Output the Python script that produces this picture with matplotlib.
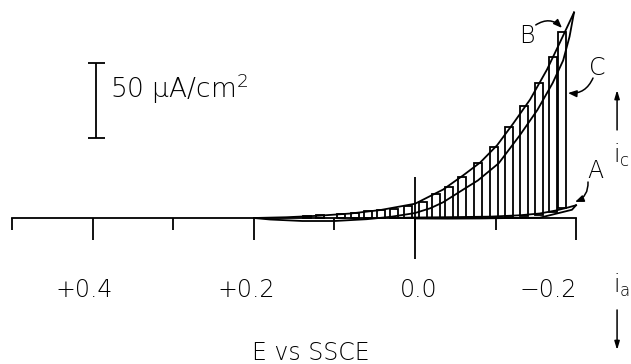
import matplotlib
matplotlib.use("Agg")
import matplotlib.pyplot as plt
from matplotlib.transforms import offset_copy

plt.rcParams["font.family"] = ["DejaVu Sans"]
plt.rcParams["mathtext.fontset"] = "custom"
plt.rcParams["mathtext.rm"] = "DejaVu Sans:light"
plt.rcParams["mathtext.it"] = "DejaVu Sans:light"

# ---- data (E in V vs SSCE, i in uA/cm^2, cathodic positive) ----
E_outer = [0.20, 0.16, 0.12, 0.08, 0.043, 0.0, -0.035, -0.060, -0.081, -0.102,
           -0.122, -0.143, -0.164, -0.180, -0.1975]
i_outer = [0.0, 0.5, 1.5, 3.0, 5.3, 9.5, 19.0, 28.5, 37.0, 48.5,
           63.0, 79.0, 99.0, 117.0, 137.0]

E_inner = [-0.1975, -0.192, -0.184, -0.171, -0.152, -0.130, -0.104, -0.078,
           -0.060, -0.035, -0.019, 0.0, 0.03, 0.06, 0.10, 0.14, 0.18, 0.20]
i_inner = [137.0, 121.0, 105.0, 90.0, 72.0, 55.0, 36.5, 25.0,
           19.0, 10.5, 6.5, 3.3, 0.8, -0.8, -2.0, -2.0, -1.0, 0.0]

E_A_fwd = [0.03, 0.0, -0.05, -0.093, -0.13, -0.155, -0.175, -0.19, -0.20]
i_A_fwd = [0.0, 0.3, 0.6, 0.9, 1.8, 3.0, 5.0, 7.0, 8.5]
E_A_rev = [-0.20, -0.195, -0.18, -0.155, -0.12, -0.08, -0.04, 0.0]
i_A_rev = [8.5, 5.5, 3.5, 0.2, 0.0, -0.3, -0.4, -0.3]

bar_E = [0.1344, 0.1183, 0.0922, 0.0748, 0.0586, 0.0425, 0.0263, 0.0089,
         -0.0097, -0.0258, -0.0420, -0.0581, -0.0780, -0.0979, -0.1165,
         -0.1352, -0.1538, -0.1712, -0.1824]
bar_top = [1.3, 2.3, 2.8, 3.3, 4.4, 5.1, 6.3, 7.7,
           10.7, 16.0, 20.5, 27.0, 36.5, 47.3, 60.5,
           74.7, 90.0, 107.0, 124.0]
bar_base = [0, 0, 0, 0, 0, 0, 0, 0,
            0, 0, 0, 0, 0, 0, 0.7,
            1.3, 2.2, 4.0, 7.0]

major_ticks = [0.4, 0.2, 0.0, -0.2]
major_labels = ["+0.4", "+0.2", "0.0", "\u22120.2"]
minor_ticks = [0.5, 0.3, 0.1, -0.1]
scale_value = 50  # uA/cm^2

# ---- figure ----
fig = plt.figure(figsize=(6.31, 3.64), dpi=100)
ax = fig.add_axes([0, 0, 1, 1])
ax.set_xlim(0.5155, -0.2683)
ax.set_ylim(-97.33, 145.33)
ax.patch.set_alpha(0)

for s in ["top", "right", "left"]:
    ax.spines[s].set_visible(False)
ax.spines["bottom"].set_position(("data", 0))
ax.spines["bottom"].set_bounds(min(major_ticks), max(minor_ticks))
ax.spines["bottom"].set_linewidth(1.3)
ax.set_yticks([])
ax.set_xticks(major_ticks)
ax.set_xticklabels([""] * len(major_ticks))
ax.set_xticks(minor_ticks, minor=True)
ax.tick_params(axis="x", which="major", direction="out", length=16, width=1.3)
ax.tick_params(axis="x", which="minor", direction="out", length=8.5, width=1.3)

lw = 1.3
heights = [t - b for t, b in zip(bar_top, bar_base)]
ax.bar(bar_E, heights, bottom=bar_base, width=0.0095, facecolor="none",
       edgecolor="black", linewidth=lw)
ax.plot(E_outer, i_outer, color="black", lw=lw)
ax.plot(E_inner, i_inner, color="black", lw=lw)
ax.plot(E_A_fwd, i_A_fwd, color="black", lw=lw)
ax.plot(E_A_rev, i_A_rev, color="black", lw=lw)

ax.vlines(0.0, -27, 27, color="black", lw=lw)

tw = "light"
fs = 17
label_dx = [20, 21, 22, 1]
for t, lab, dx in zip(major_ticks, major_labels, label_dx):
    tr = offset_copy(ax.transData, fig=fig, x=dx, y=0, units="dots")
    ax.text(t, -52.7, lab, transform=tr, ha="right", va="baseline",
            fontsize=fs, fontweight=tw, color="black")

ax.text(0.130, -94.5, "E vs SSCE", ha="center", va="baseline",
        fontsize=fs, fontweight=tw, color="black")

sx = 0.3963
s0 = 53.3
ax.vlines(sx, s0, s0 + scale_value, color="black", lw=lw)
ax.hlines([s0, s0 + scale_value], sx + 0.010, sx - 0.011, color="black", lw=lw)
ax.text(0.3789, 80, "50 \u03bcA/cm$^{\\mathrm{2}}$", ha="left",
        va="baseline", fontsize=19, fontweight=tw, color="black")

ax.text(-0.139, 121, "B", ha="center", va="center", fontsize=17, fontweight=tw)
ax.text(-0.226, 100, "C", ha="center", va="center", fontsize=17, fontweight=tw)
ax.text(-0.2236, 31.3, "A", ha="center", va="center", fontsize=17, fontweight=tw)

aprops = dict(arrowstyle="-|>,head_length=0.5,head_width=0.2",
              color="black", lw=1.1, shrinkA=0, shrinkB=0)
ax.annotate("", xy=(-0.1826, 126.7), xytext=(-0.150, 128.7),
            arrowprops=dict(aprops, connectionstyle="arc3,rad=-0.4"))
ax.annotate("", xy=(-0.190, 83.3), xytext=(-0.2211, 93.3),
            arrowprops=dict(aprops, connectionstyle="arc3,rad=-0.35"))
ax.annotate("", xy=(-0.1988, 10.7), xytext=(-0.2149, 24),
            arrowprops=dict(aprops, connectionstyle="arc3,rad=-0.35"))

ax.annotate("", xy=(-0.251, 85.3), xytext=(-0.251, 58.7),
            arrowprops=dict(arrowstyle="-|>,head_length=0.5,head_width=0.15",
                            color="black", lw=1.1, shrinkA=0, shrinkB=0))
ax.annotate("", xy=(-0.251, -88), xytext=(-0.251, -61.3),
            arrowprops=dict(arrowstyle="-|>,head_length=0.5,head_width=0.15",
                            color="black", lw=1.1, shrinkA=0, shrinkB=0))
ax.text(-0.246, 42, "$\\mathrm{i}_{\\mathrm{c}}$", ha="left", va="center",
        fontsize=17)
ax.text(-0.246, -44.7, "$\\mathrm{i}_{\\mathrm{a}}$", ha="left", va="center",
        fontsize=17)

fig.savefig("out.png", dpi=100, facecolor="white")
